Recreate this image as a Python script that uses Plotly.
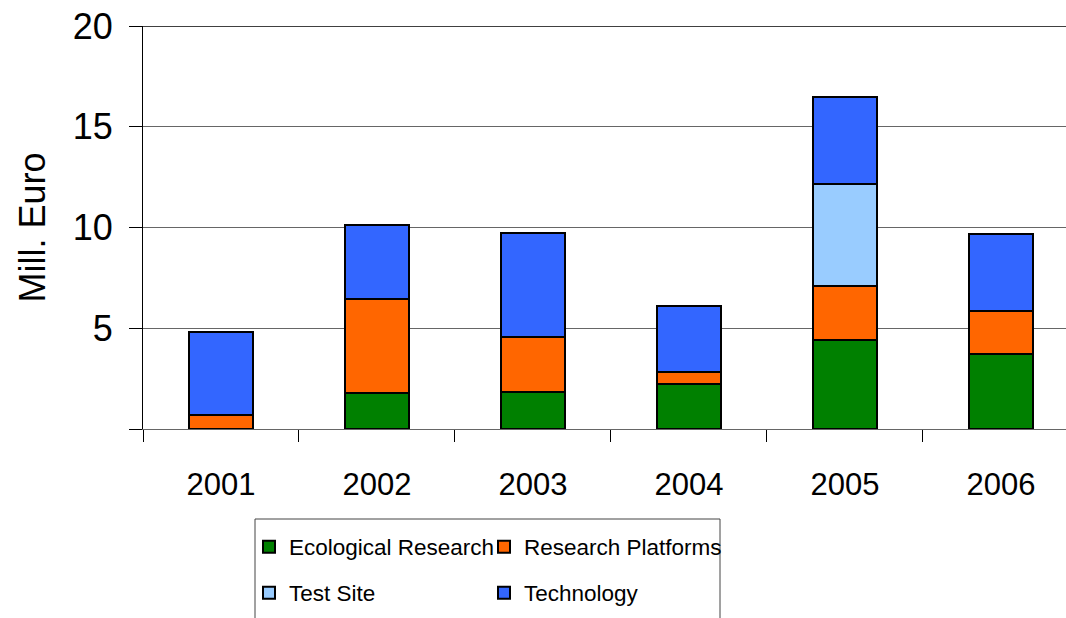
import plotly.graph_objects as go

years = ["2001", "2002", "2003", "2004", "2005", "2006"]
ecological = [0.0, 1.8, 1.85, 2.22, 4.43, 3.72]
platforms = [0.7, 4.67, 2.74, 0.6, 2.65, 2.14]
test_site = [0.0, 0.0, 0.0, 0.0, 5.06, 0.0]
technology = [4.09, 3.63, 5.16, 3.28, 4.36, 3.81]

series_names = ["Ecological Research", "Research Platforms", "Test Site", "Technology"]
series_colors = ["#008000", "#FF6600", "#99CCFF", "#3366FF"]

y_tickvals = [0, 5, 10, 15, 20]
y_ticktext = ["", "5", "10", "15", "20"]

W, H = 1066, 618
font_family = "Liberation Sans, Arial, sans-serif"

# legend slots (one legend per entry, laid out as a 2x2 grid inside a framed box)
legend_ids = ["legend", "legend2", "legend3", "legend4"]
legend_px = [(249, 547), (484, 547), (249, 593), (484, 593)]

fig = go.Figure()
for name, vals, col, lid in zip(series_names, [ecological, platforms, test_site, technology],
                                series_colors, legend_ids):
    fig.add_trace(go.Bar(
        x=years, y=vals, name=name, legend=lid,
        marker=dict(color=col, line=dict(color="#000000", width=2)),
    ))

legend_layout = {}
for lid, (px, py) in zip(legend_ids, legend_px):
    legend_layout[lid] = dict(
        xref="container", yref="container",
        x=px / W, xanchor="left",
        y=1 - py / H, yanchor="middle",
        orientation="h",
        font=dict(family=font_family, size=22.5, color="black"),
        bgcolor="rgba(0,0,0,0)", borderwidth=0,
    )

fig.update_layout(
    barmode="stack",
    bargap=0.59,
    width=W, height=H,
    margin=dict(l=143, r=0, t=26, b=189, autoexpand=False),
    paper_bgcolor="white",
    plot_bgcolor="white",
    showlegend=True,
    xaxis=dict(
        type="category",
        range=[-0.5, 5.417],
        tickson="boundaries",
        ticks="outside", ticklen=12, tickcolor="#000000",
        showline=True, linecolor="#666666", linewidth=1,
        showgrid=False, automargin=False,
        tickfont=dict(family=font_family, size=31, color="black"),
        ticklabelstandoff=28,
    ),
    yaxis=dict(
        range=[0, 20],
        tickvals=y_tickvals, ticktext=y_ticktext,
        ticks="outside", ticklen=13, tickcolor="#000000",
        showline=True, linecolor="#000000", linewidth=1,
        showgrid=True, gridcolor="#666666", gridwidth=1,
        zeroline=False, automargin=False,
        tickfont=dict(family=font_family, size=36, color="black"),
        ticklabelstandoff=9,
        title=dict(text="Mill. Euro", font=dict(family=font_family, size=36, color="black"), standoff=16),
    ),
    **legend_layout,
)

# top border line at 20 and legend frame
fig.add_shape(type="line", xref="paper", yref="y", x0=0, x1=1, y0=20, y1=20,
              line=dict(color="#000000", width=1.5), layer="above")
fig.add_shape(type="rect", xref="paper", yref="paper",
              x0=(255 - 143) / 923, x1=(720 - 143) / 923,
              y0=(429 - 640) / 403, y1=(429 - 519) / 403,
              line=dict(color="#444444", width=1), fillcolor="rgba(0,0,0,0)", layer="below")

fig.write_html("out.html")
